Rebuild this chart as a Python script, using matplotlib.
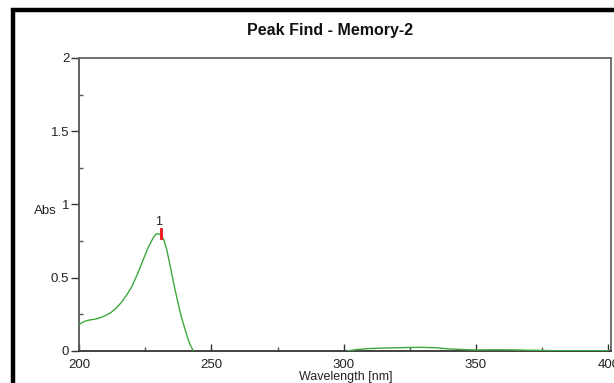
import matplotlib
matplotlib.use("Agg")
import matplotlib.pyplot as plt
from matplotlib.lines import Line2D
from matplotlib.ticker import MultipleLocator

plt.rcParams['font.family'] = ['Liberation Sans', 'DejaVu Sans']

title = "Peak Find - Memory-2"
xlabel = "Wavelength [nm]"
ylabel = "Abs"

wavelength = [200, 202, 204, 206, 208, 210, 212, 214, 216, 218, 220, 222, 224, 226,
              228, 229, 230, 231, 232, 233, 234, 235, 236, 237, 238, 239, 240, 241,
              242, 243, 244, 246, 250, 260, 280, 295, 300, 302, 305, 310, 315, 320,
              325, 330, 335, 340, 345, 350, 355, 360, 365, 370, 375, 380, 390, 400]
absorbance = [0.18, 0.20, 0.21, 0.215, 0.225, 0.24, 0.26, 0.29, 0.33, 0.38, 0.44, 0.52,
              0.61, 0.70, 0.77, 0.795, 0.80, 0.79, 0.76, 0.70, 0.62, 0.53, 0.44, 0.36,
              0.28, 0.21, 0.15, 0.09, 0.04, 0.005, -0.03, -0.08, -0.15, -0.2, -0.15,
              -0.05, -0.01, 0.0, 0.008, 0.015, 0.018, 0.02, 0.022, 0.023, 0.02, 0.012,
              0.008, 0.005, 0.006, 0.006, 0.005, 0.003, 0.002, 0.0, 0.0, 0.0]

peak_wl = 230.8
peak_lo, peak_hi = 0.77, 0.83
peak_label = "1"

xticks = [200, 250, 300, 350, 400]
xticklabels = ["200", "250", "300", "350", "400"]
yticks = [0, 0.5, 1, 1.5, 2]
yticklabels = ["0", "0.5", "1", "1.5", "2"]

fig = plt.figure(figsize=(6.14, 3.83), dpi=100)
ax = fig.add_axes([79/614, 1-350.7/383, (611-79)/614, (350.7-58)/383])

ax.plot(wavelength, absorbance, color='#3da83d', lw=1.0, zorder=3)
ax.plot([peak_wl, peak_wl], [peak_lo, peak_hi], color='#ee1111', lw=2.0, zorder=4)
ax.text(peak_wl - 0.8, 0.84, peak_label, ha='center', va='bottom', fontsize=9, color='#222222')

ax.set_xlim(200, 401)
ax.set_ylim(0, 2)
ax.set_xticks(xticks)
ax.set_xticklabels(xticklabels)
ax.set_yticks(yticks)
ax.set_yticklabels(yticklabels)
ax.xaxis.set_minor_locator(MultipleLocator(25))
ax.yaxis.set_minor_locator(MultipleLocator(0.25))
ax.tick_params(which='major', direction='in', length=5, width=1, colors='#333333',
               labelsize=9.5, labelcolor='#222222')
ax.tick_params(which='minor', direction='in', length=3, width=1, colors='#555555')
ax.tick_params(axis='y', which='major', direction='out', length=6, pad=1)
ax.tick_params(axis='y', which='minor', direction='in')
ax.tick_params(axis='x', which='major', pad=6)
for s in ax.spines.values():
    s.set_color('#666666')
    s.set_linewidth(1.3)
ax.spines['bottom'].set_color('#333333')
ax.spines['left'].set_color('#555555')

fig.text(330/614, 1-30/383, title, ha='center', va='center', fontsize=11.5, fontweight='bold', color='#111111')
fig.text(346/614, 1-377/383, xlabel, ha='center', va='center', fontsize=9, color='#222222')
fig.text(45/614, 1-211/383, ylabel, ha='center', va='center', fontsize=9.5, color='#222222')

fig.add_artist(Line2D([11/614, 614/614], [1-10/383, 1-10/383], color='black', lw=3.2,
                      transform=fig.transFigure, solid_capstyle='butt'))
fig.add_artist(Line2D([13/614, 13/614], [1-8/383, 0], color='black', lw=3.2,
                      transform=fig.transFigure, solid_capstyle='butt'))

fig.savefig("out.png", dpi=100)
